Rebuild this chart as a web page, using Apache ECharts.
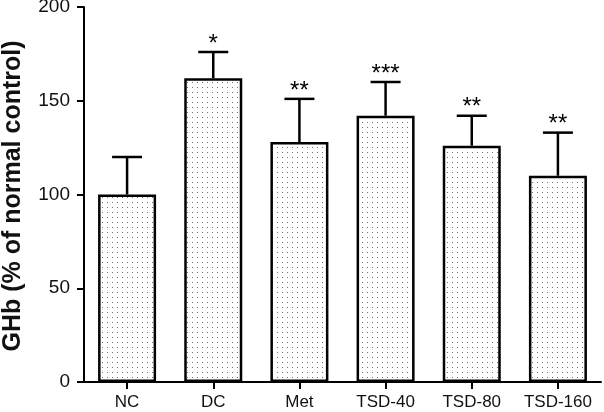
<!DOCTYPE html>
<html>
<head>
<meta charset="utf-8">
<script src="https://cdn.jsdelivr.net/npm/echarts@6/dist/echarts.min.js"></script>
<style>
html,body{margin:0;padding:0;background:#fff;}
#c{width:604px;height:412px;}
</style>
</head>
<body>
<div id="c"></div>
<script>
var categories = ['NC', 'DC', 'Met', 'TSD-40', 'TSD-80', 'TSD-160'];
var means = [100, 162, 128, 142, 126, 110];
var upper = [120, 176, 151, 160, 142, 133];
var stars = ['', '*', '**', '***', '**', '**'];
var yTicks = [0, 50, 100, 150, 200];
var yTitle = 'GHb (% of normal control)';

var pc = document.createElement('canvas');
pc.width = 5; pc.height = 5;
var pctx = pc.getContext('2d');
pctx.fillStyle = '#ffffff';
pctx.fillRect(0, 0, 5, 5);
pctx.fillStyle = '#6f6f6f';
pctx.fillRect(2, 2, 1, 1);

var errData = categories.map(function (c, i) { return [i, means[i], upper[i], stars[i]]; });

var chart = echarts.init(document.getElementById('c'), null, {renderer: 'canvas'});
chart.setOption({
  animation: false,
  backgroundColor: '#ffffff',
  grid: {left: 84, right: 3, top: 7, bottom: 30, containLabel: false, outerBoundsMode: 'none'},
  graphic: [{
    type: 'text', x: 13, y: 196, rotation: Math.PI / 2,
    style: {text: yTitle, textAlign: 'center', textVerticalAlign: 'middle', fontSize: 25, fontWeight: 'bold', fontFamily: 'Liberation Sans, Arial', fill: '#111'}
  }],
  xAxis: {
    type: 'category',
    data: categories,
    axisLine: {lineStyle: {color: '#000', width: 2}},
    axisTick: {show: true, alignWithLabel: true, length: 7, lineStyle: {color: '#000', width: 2}},
    axisLabel: {color: '#111', fontSize: 17, fontFamily: 'Liberation Sans, Arial', margin: 12, interval: 0, hideOverlap: false}
  },
  yAxis: {
    type: 'value',
    min: yTicks[0], max: yTicks[yTicks.length - 1], interval: 50,
    axisLine: {show: true, lineStyle: {color: '#000', width: 2}},
    axisTick: {show: true, length: 7, lineStyle: {color: '#000', width: 2}},
    splitLine: {show: false},
    axisLabel: {color: '#111', fontSize: 19, fontFamily: 'Liberation Sans, Arial', margin: 14}
  },
  series: [
    {
      type: 'bar',
      data: means,
      barWidth: 58,
      itemStyle: {color: {image: pc, repeat: 'repeat'}, borderColor: '#000', borderWidth: 2.5},
      z: 2
    },
    {
      type: 'custom',
      data: errData,
      z: 3,
      renderItem: function (params, api) {
        var x = api.value(0);
        var p0 = api.coord([x, api.value(1)]);
        var p1 = api.coord([x, api.value(2)]);
        var hw = 15;
        var s = stars[params.dataIndex];
        var children = [
          {type: 'line', shape: {x1: p0[0], y1: p0[1], x2: p1[0], y2: p1[1]}, style: {stroke: '#000', lineWidth: 2.5}},
          {type: 'line', shape: {x1: p1[0] - hw, y1: p1[1], x2: p1[0] + hw, y2: p1[1]}, style: {stroke: '#000', lineWidth: 2.5}}
        ];
        if (s) {
          children.push({type: 'text', style: {text: s, x: p1[0], y: p1[1] + 4, textAlign: 'center', textVerticalAlign: 'bottom', fontSize: 24, fontFamily: 'Liberation Sans, Arial', fill: '#000'}});
        }
        return {type: 'group', children: children};
      }
    }
  ]
});
</script>
</body>
</html>
